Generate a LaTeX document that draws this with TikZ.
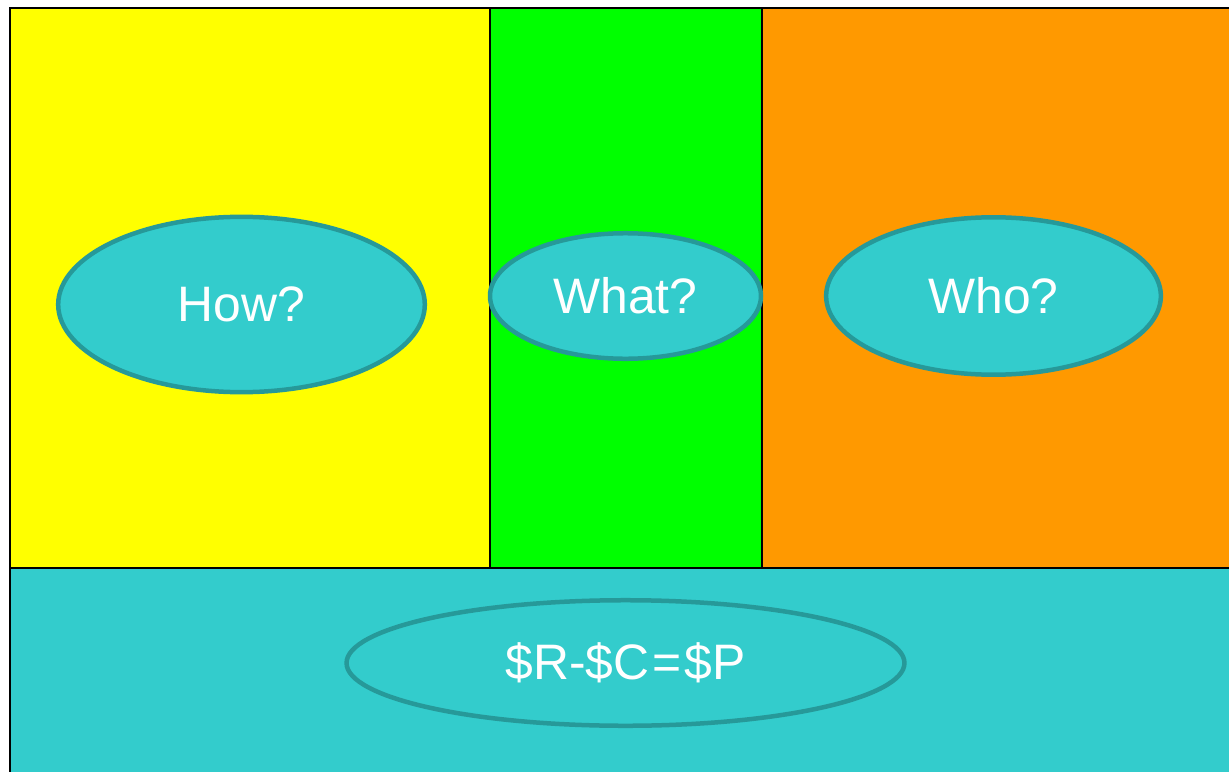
\documentclass[tikz,border=0pt]{standalone}
\usepackage{fontspec}
\setmainfont{Liberation Sans}
\usetikzlibrary{shapes.geometric}

\definecolor{panelyellow}{HTML}{FFFF00}
\definecolor{panelgreen}{HTML}{00FF00}
\definecolor{panelorange}{HTML}{FF9900}
\definecolor{panelcyan}{HTML}{33CCCC}
\definecolor{bubbleedge}{HTML}{269999}

\begin{document}
\begin{tikzpicture}[x=1bp, y=-1bp, line join=miter,
    bubble/.style={ellipse, draw=bubbleedge, fill=panelcyan, line width=4.5bp,
      inner sep=0pt, text=white, font=\fontsize{50}{54}\selectfont}]
    \useasboundingbox (0,0) rectangle (1229,772);
    \clip (0,0) rectangle (1229,772);

    % panels
    \fill[panelyellow] (10,8) rectangle (490,568);
    \fill[panelgreen]  (490,8) rectangle (762,568);
    \fill[panelorange] (762,8) rectangle (1240,568);
    \fill[panelcyan]   (10,568) rectangle (1240,785);

    % frame and dividers
    \draw[line width=2.5bp] (1240,8) -- (10,8) -- (10,785);
    \draw[line width=2bp] (10,568) -- (1240,568);
    \draw[line width=2bp] (490,8) -- (490,568);
    \draw[line width=2bp] (762,8) -- (762,568);

    % questions
    \node[bubble, minimum width=368, minimum height=176] (how)  at (241.5,304.5) {How?};
    \node[bubble, minimum width=272, minimum height=126] (what) at (625.5,296) {What?};
    \node[bubble, minimum width=336, minimum height=158] (who)  at (993.5,296) {Who?};

    % profit line
    \node[bubble, minimum width=560, minimum height=126] (profit) at (625.5,663)
      {\$R-\$C\kern3bp=\kern3bp\$P};
\end{tikzpicture}
\end{document}
